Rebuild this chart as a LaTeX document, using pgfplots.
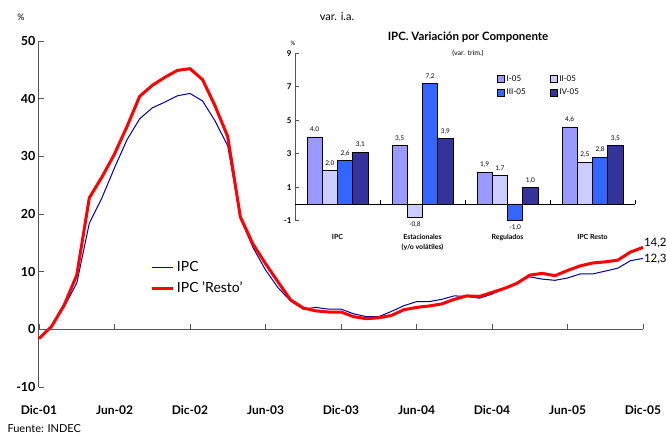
\documentclass[border=0pt]{standalone}
\usepackage{pgfplots}
\pgfplotsset{compat=1.18}
\usepackage{fontspec}
\setmainfont{Lato}

\definecolor{ipcblue}{HTML}{000099}
\definecolor{restored}{HTML}{FF0000}
\definecolor{qone}{HTML}{9999FF}
\definecolor{qtwo}{HTML}{CCCCFF}
\definecolor{qthree}{HTML}{3366FF}
\definecolor{qfour}{HTML}{333399}
\definecolor{axisgray}{HTML}{555555}

% Monthly year-on-year variation (%), Dec-01 = month 0
\pgfplotstableread{
m ipc resto
0 -1.6 -1.6
1 0.4 0.5
2 3.9 4.2
3 8.0 9.4
4 18.4 22.8
5 22.8 26.4
6 28.0 30.4
7 32.9 35.2
8 36.5 40.4
9 38.4 42.3
10 39.4 43.7
11 40.5 44.9
12 40.9 45.2
13 39.6 43.3
14 36.1 38.7
15 31.8 33.4
16 19.3 19.5
17 14.2 14.8
18 10.3 11.4
19 7.2 8.2
20 4.9 5.1
21 3.5 3.7
22 3.8 3.2
23 3.5 3.0
24 3.5 3.0
25 2.7 2.2
26 2.2 1.85
27 2.2 2.0
28 3.1 2.4
29 4.1 3.4
30 4.8 3.8
31 4.8 4.05
32 5.2 4.4
33 5.8 5.2
34 5.7 5.8
35 5.4 5.7
36 6.1 6.4
37 7.1 7.1
38 8.1 8.0
39 9.1 9.4
40 8.7 9.7
41 8.5 9.3
42 8.9 10.2
43 9.6 11.0
44 9.6 11.5
45 10.1 11.7
46 10.6 12.0
47 11.9 13.4
48 12.3 14.2
}\ipcdata

% Quarterly variation by component
\pgfplotstableread{
x q1 q2 q3 q4
0 4.0 2.0 2.6 3.1
1 3.5 -0.8 7.2 3.9
2 1.9 1.7 -1.0 1.0
3 4.6 2.5 2.8 3.5
}\compdata

\begin{document}
\begin{tikzpicture}[x=1pt,y=1pt]
\useasboundingbox (0,0) rectangle (666,435);

% ---------- main chart ----------
\begin{axis}[
  at={(39pt,48pt)}, anchor=south west,
  scale only axis, width=604pt, height=346pt,
  xmin=0, xmax=48, ymin=-10, ymax=50,
  axis y line=left, axis x line=bottom,
  y axis line style={-, draw=axisgray, line width=1pt},
  x axis line style={draw=none},
  xtick={0,6,...,48},
  xticklabels={Dic-01,Jun-02,Dic-02,Jun-03,Dic-03,Jun-04,Dic-04,Jun-05,Dic-05},
  xtick style={draw=none},
  xticklabel style={font=\bfseries\fontsize{12}{14}\selectfont, yshift=-15pt},
  ytick={-10,0,...,50},
  ytick style={draw=axisgray, line width=0.8pt},
  yticklabel style={font=\bfseries\fontsize{12.5}{14}\selectfont},
  tick align=inside, major tick length=5pt,
  /pgf/number format/assume math mode=true,
  clip=false,
  legend style={at={(0.18,0.375)}, anchor=north west, draw=none, fill=none,
    font=\fontsize{14}{16}\selectfont, row sep=5pt},
  legend cell align=left,
  legend image code/.code={\draw[#1] (0pt,0pt) -- (21pt,0pt);},
]
\addplot[ipcblue, line width=1pt] table[x=m, y=ipc] {\ipcdata};
\addlegendentry{IPC}
\addplot[restored, line width=3pt, line join=round] table[x=m, y=resto] {\ipcdata};
\addlegendentry{IPC 'Resto'}
\node[anchor=south west, inner sep=0.3pt, xshift=0.5pt, font=\fontsize{11.5}{13}\selectfont] at (axis cs:48,14.0) {14,2};
\node[anchor=west, inner sep=0.3pt, xshift=0.5pt, font=\fontsize{11.5}{13}\selectfont] at (axis cs:48,12.2) {12,3};
\end{axis}

% zero line of the main chart with its month ticks
\begin{axis}[
  at={(39pt,48pt)}, anchor=south west,
  scale only axis, width=604pt, height=346pt,
  xmin=0, xmax=48, ymin=-10, ymax=50,
  axis x line=middle, axis y line=none,
  x axis line style={-, draw=axisgray, line width=1pt},
  xtick={0,6,...,48}, xticklabels={},
  xtick style={draw=axisgray, line width=0.8pt},
  tick align=inside, major tick length=5pt,
  ytick=\empty,
]
\end{axis}

% ---------- inset: variation by component ----------
\begin{axis}[
  at={(295pt,214.3pt)}, anchor=south west,
  scale only axis, width=340pt, height=167.4pt,
  xmin=-0.5, xmax=3.5, ymin=-1, ymax=9,
  axis y line=left, axis x line=bottom,
  y axis line style={-, draw=axisgray, line width=0.8pt},
  x axis line style={draw=none},
  xtick={0,1,2,3},
  xticklabels={IPC,{Estacionales\\(y/o volátiles)},Regulados,IPC Resto},
  xticklabel style={font=\bfseries\fontsize{7}{10}\selectfont, align=center, anchor=north, yshift=-6pt},
  xtick style={draw=none},
  ytick={-1,1,...,9},
  ytick style={draw=axisgray, line width=0.6pt},
  yticklabel style={font=\bfseries\fontsize{8}{9}\selectfont},
  tick align=inside, major tick length=4pt,
  /pgf/number format/assume math mode=true,
  ybar=0pt, bar width=0.179,
  nodes near coords={\pgfmathprintnumber[fixed,fixed zerofill,precision=1,use comma]{\pgfplotspointmeta}},
  every node near coord/.append style={font=\fontsize{6.5}{8}\selectfont, color=black, inner sep=4pt},
  clip=false,
  legend style={at={(0.585,0.89)}, anchor=north west, draw=none, fill=none,
    font=\fontsize{8}{10}\selectfont, row sep=2pt,
    /tikz/every even column/.append style={column sep=22pt}},
  legend columns=2, legend cell align=left,
  legend image code/.code={\draw[#1, line width=0.6pt] (0pt,-3pt) rectangle (7pt,4pt);},
]
\addplot[fill=qone, draw=black, line width=0.6pt, bar shift=-0.2685] table[x=x, y=q1] {\compdata};
\addlegendentry{I-05}
\addplot[fill=qtwo, draw=black, line width=0.6pt, bar shift=-0.0895] table[x=x, y=q2] {\compdata};
\addlegendentry{II-05}
\addplot[fill=qthree, draw=black, line width=0.6pt, bar shift=0.0895] table[x=x, y=q3] {\compdata};
\addlegendentry{III-05}
\addplot[fill=qfour, draw=black, line width=0.6pt, bar shift=0.2685] table[x=x, y=q4] {\compdata};
\addlegendentry{IV-05}
\end{axis}

% zero line of the inset with group separators
\begin{axis}[
  at={(295pt,214.3pt)}, anchor=south west,
  scale only axis, width=340pt, height=167.4pt,
  xmin=-0.5, xmax=3.5, ymin=-1, ymax=9,
  axis x line=middle, axis y line=none,
  x axis line style={-, draw=black, line width=0.8pt},
  xtick={0.5,1.5,2.5,3.5}, xticklabels={},
  xtick style={draw=black, line width=0.6pt},
  tick align=inside, major tick length=4pt,
  ytick=\empty,
]
\end{axis}

% titles and notes
\node[font=\fontsize{11}{13}\selectfont] at (337,418) {var. i.a.};
\node[font=\fontsize{9}{11}\selectfont] at (21,418) {\%};
\node[font=\bfseries\fontsize{11.5}{13}\selectfont] at (468,398) {IPC. Variación por Componente};
\node[font=\fontsize{7}{9}\selectfont] at (468,382) {(var. trim.)};
\node[font=\fontsize{6}{7}\selectfont] at (293,392) {\%};
\node[anchor=west, font=\fontsize{11}{13}\selectfont] at (4,6) {Fuente: INDEC};
\end{tikzpicture}
\end{document}
